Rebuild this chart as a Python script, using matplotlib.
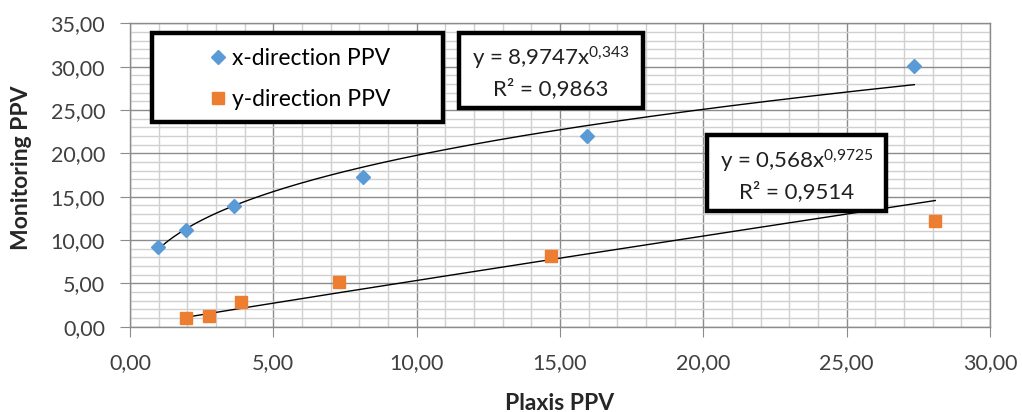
import numpy as np
import matplotlib
matplotlib.use("Agg")
import matplotlib.pyplot as plt
from matplotlib.ticker import MultipleLocator, FuncFormatter
from matplotlib.patches import Rectangle

plt.rcParams['font.family'] = ['Lato', 'DejaVu Sans']
plt.rcParams['mathtext.fontset'] = 'custom'
plt.rcParams['mathtext.rm'] = 'Lato'
plt.rcParams['mathtext.it'] = 'Lato'
plt.rcParams['mathtext.default'] = 'regular'

# data
x_dir_plaxis = [0.99, 1.94, 3.64, 8.14, 15.95, 27.36]
x_dir_monitor = [9.2, 11.2, 13.9, 17.3, 22.0, 30.1]
y_dir_plaxis = [1.95, 2.75, 3.87, 7.30, 14.68, 28.09]
y_dir_monitor = [1.0, 1.25, 2.9, 5.1, 8.1, 12.2]

# power trend coefficients (y = a * x^b)
x_fit_a, x_fit_b, x_fit_r2 = 8.9747, 0.343, 0.9863
y_fit_a, y_fit_b, y_fit_r2 = 0.568, 0.9725, 0.9514

blue = '#5B9BD5'
orange = '#ED7D31'

W, H = 1022, 412
AX_L, AX_R, AX_T, AX_B = 130, 990, 23.3, 326.7
fig = plt.figure(figsize=(W/100, H/100), dpi=100)
ax = fig.add_axes([AX_L/W, 1-AX_B/H, (AX_R-AX_L)/W, (AX_B-AX_T)/H])

def ax_frac(px, py):
    return (px-AX_L)/(AX_R-AX_L), (AX_B-py)/(AX_B-AX_T)

ax.set_xlim(0, 30)
ax.set_ylim(0, 35)
ax.xaxis.set_major_locator(MultipleLocator(5))
ax.xaxis.set_minor_locator(MultipleLocator(1))
ax.yaxis.set_major_locator(MultipleLocator(5))
ax.yaxis.set_minor_locator(MultipleLocator(1))
ax.grid(which='minor', color='#d0d0d0', linewidth=1.0)
ax.grid(which='major', color='#8c8c8c', linewidth=1.0)
ax.set_axisbelow(True)
for s in ax.spines.values():
    s.set_color('#8c8c8c')
    s.set_linewidth(1.0)
ax.tick_params(which='major', length=7, color='#8c8c8c', labelsize=15.5, labelcolor='#404040')
ax.tick_params(axis='y', pad=11)
ax.tick_params(axis='x', pad=12)
ax.tick_params(which='minor', length=0)
fmt = FuncFormatter(lambda v, p: f"{v:.2f}".replace('.', ','))
ax.xaxis.set_major_formatter(fmt)
ax.yaxis.set_major_formatter(fmt)

# trendlines
xx = np.linspace(min(x_dir_plaxis), max(x_dir_plaxis), 200)
ax.plot(xx, x_fit_a * xx ** x_fit_b, color='black', linewidth=1.0, zorder=2)
yy = np.linspace(min(y_dir_plaxis), max(y_dir_plaxis), 200)
ax.plot(yy, y_fit_a * yy ** y_fit_b, color='black', linewidth=1.0, zorder=2)

ax.plot(x_dir_plaxis, x_dir_monitor, linestyle='none', marker='D', markersize=7.5,
        color=blue, label='x-direction PPV', zorder=3, clip_on=False)
ax.plot(y_dir_plaxis, y_dir_monitor, linestyle='none', marker='s', markersize=9,
        color=orange, label='y-direction PPV', zorder=3, clip_on=False)

bw = 3.2
def box(x0, y0, x1, y1):
    fx0, fy1 = ax_frac(x0, y1)
    fx1, fy0 = ax_frac(x1, y0)
    r = Rectangle((fx0, fy1), fx1-fx0, fy0-fy1, transform=ax.transAxes,
                  facecolor='white', edgecolor='black', linewidth=bw, zorder=5,
                  clip_on=False, joinstyle='miter')
    ax.add_patch(r)

# legend
box(152, 33, 443, 122)
lx, ly = ax_frac(301, 79)
leg = ax.legend(loc='center', bbox_to_anchor=(lx, ly), frameon=False, fontsize=16.5,
                handlelength=0.6, handletextpad=0.3, labelspacing=0.85, borderpad=0,
                borderaxespad=0)
leg.set_zorder(6)

def ftxt(v):
    return f"{v}".replace('.', ',')

t1 = "y = " + ftxt(x_fit_a) + "x$^{" + ftxt(x_fit_b).replace(',', '{,}') + "}$\nR² = " + ftxt(x_fit_r2)
t2 = "y = " + ftxt(y_fit_a) + "x$^{" + ftxt(y_fit_b).replace(',', '{,}') + "}$\nR² = " + ftxt(y_fit_r2)

box(459, 33, 643, 108)
tx, ty = ax_frac(551, 72)
ax.text(tx, ty, t1, transform=ax.transAxes, ha='center', va='center',
        fontsize=16, zorder=7, linespacing=1.35, color='#202020')
box(707, 135, 886, 211)
tx, ty = ax_frac(796.5, 175)
ax.text(tx, ty, t2, transform=ax.transAxes, ha='center', va='center',
        fontsize=16, zorder=7, linespacing=1.35, color='#202020')

fig.text(560/W, 1-403/H, 'Plaxis PPV', ha='center', va='center', fontsize=16.5,
         fontweight='bold', color='#262626')
fig.text(22/W, 1-168/H, 'Monitoring PPV', ha='center', va='center', fontsize=16.5,
         fontweight='bold', rotation=90, color='#262626')

fig.savefig('out.png', dpi=100)
